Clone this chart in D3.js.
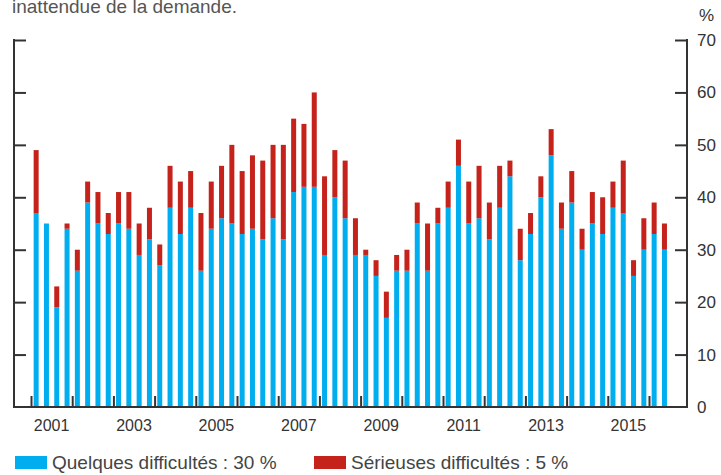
<!DOCTYPE html>
<html>
<head>
    <meta charset="utf-8">
    <title>difficultes</title>
    <style type="text/css">
        body { margin: 0; background: #fff; }
        svg text { font-family: "Liberation Sans", Arial, sans-serif; fill: #333; }
        .axis path, .axis line { stroke: #333; }
    </style>
</head>
<body>
    <svg class="chart" width="721" height="475"></svg>
    <script src="https://cdn.jsdelivr.net/npm/d3@7"></script>
    <script type="text/javascript">
    // quarterly, 2001 T1 .. 2016 T2
    var years = d3.range(2001, 2017);
    var labelYears = [2001, 2003, 2005, 2007, 2009, 2011, 2013, 2015];
    var quelques = [37, 35, 19, 34, 26, 39, 35, 33, 35, 34, 29, 32, 27, 38, 33, 38,
        26, 34, 36, 35, 33, 34, 32, 36, 32, 41, 42, 42, 29, 40, 36, 29,
        29, 25, 17, 26, 26, 35, 26, 35, 38, 46, 35, 36, 32, 38, 44, 28,
        33, 40, 48, 34, 39, 30, 35, 33, 38, 37, 25, 30, 33, 30];
    var serieuses = [12, 0, 4, 1, 4, 4, 6, 4, 6, 7, 6, 6, 4, 8, 10, 7,
        11, 9, 10, 15, 12, 14, 15, 14, 18, 14, 12, 18, 15, 9, 11, 7,
        1, 3, 5, 3, 4, 4, 9, 3, 5, 5, 8, 10, 7, 8, 3, 6,
        4, 4, 5, 5, 6, 4, 6, 7, 5, 10, 3, 6, 6, 5];
    var yTicks = [0, 10, 20, 30, 40, 50, 60, 70];
    var legendLabels = ['Quelques difficultés : 30 %', 'Sérieuses difficultés : 5 %'];
    var colors = ['#00aeef', '#c4221b'];

    var rows = quelques.map(function(v, i) {
        return { t: 2001 + Math.floor(i / 4) + (i % 4 + 0.5) / 4, quelques: v, serieuses: serieuses[i] };
    });

    var svg = d3.select('.chart');
    var plotLeft = 14, plotRight = 687, plotTop = 40, plotBottom = 407;

    var x = d3.scaleLinear().domain([2001, 2016.5]).range([31, 669.6]);
    var y = d3.scaleLinear().domain([0, 70]).range([plotBottom, plotTop]);

    // texte coupe en haut
    svg.append('text')
        .attr('x', 12).attr('y', 13)
        .style('font-size', '19px').style('fill', '#555')
        .text('inattendue de la demande.');

    var series = d3.stack().keys(['quelques', 'serieuses'])(rows);

    svg.append('g').selectAll('g')
        .data(series)
        .enter().append('g')
        .attr('fill', function(d, i) { return colors[i]; })
        .selectAll('rect')
        .data(function(d) { return d; })
        .enter().append('rect')
        .attr('x', function(d) { return x(d.data.t) - 2.5; })
        .attr('width', 5)
        .attr('y', function(d) { return y(d[1]); })
        .attr('height', function(d) { return y(d[0]) - y(d[1]); });

    // axe gauche (traits vers l'interieur)
    svg.append('g')
        .attr('class', 'axis')
        .attr('transform', 'translate(' + plotLeft + ',0)')
        .call(d3.axisRight(y).tickValues(yTicks.slice(1)).tickSize(12).tickFormat(''))
        .call(function(g) { g.select('.domain').remove(); g.selectAll('line').attr('stroke-width', 2); });

    // axe droit
    var ry = svg.append('g')
        .attr('class', 'axis')
        .attr('transform', 'translate(' + plotRight + ',0)')
        .call(d3.axisLeft(y).tickValues(yTicks).tickSize(12).tickFormat(d3.format('d')))
        .call(function(g) { g.select('.domain').remove(); g.selectAll('line').attr('stroke-width', 2); });
    ry.selectAll('text')
        .attr('x', 10).attr('text-anchor', 'start')
        .style('font-size', '17px').style('fill', '#333');
    ry.select('.tick line').remove();

    svg.append('line').attr('x1', plotLeft).attr('x2', plotLeft).attr('y1', plotTop - 1).attr('y2', plotBottom + 1)
        .attr('stroke', '#333').attr('stroke-width', 2);
    svg.append('line').attr('x1', plotRight).attr('x2', plotRight).attr('y1', plotTop - 1).attr('y2', plotBottom + 1)
        .attr('stroke', '#333').attr('stroke-width', 2);

    svg.append('text')
        .attr('x', 699).attr('y', 21)
        .style('font-size', '17px')
        .text('%');

    // axe des abscisses
    svg.append('g')
        .attr('class', 'axis')
        .attr('transform', 'translate(0,' + plotBottom + ')')
        .call(d3.axisBottom(x).tickValues(years).tickSize(-11).tickFormat(''))
        .call(function(g) { g.select('.domain').remove(); g.selectAll('line').attr('stroke-width', 2); });

    svg.append('line').attr('x1', plotLeft).attr('x2', plotRight).attr('y1', plotBottom).attr('y2', plotBottom)
        .attr('stroke', '#333').attr('stroke-width', 2);

    svg.append('g').selectAll('text')
        .data(labelYears)
        .enter().append('text')
        .attr('x', function(d) { return x(d + 0.5); })
        .attr('y', 431)
        .attr('text-anchor', 'middle')
        .style('font-size', '16px')
        .text(function(d) { return d; });

    // legende
    var legend = svg.append('g').selectAll('g')
        .data(legendLabels)
        .enter().append('g')
        .attr('transform', function(d, i) { return 'translate(' + [15, 314][i] + ',456)'; });
    legend.append('rect')
        .attr('width', 32).attr('height', 13)
        .attr('fill', function(d, i) { return colors[i]; });
    legend.append('text')
        .attr('x', 37).attr('y', 13)
        .style('font-size', '19px').style('fill', '#444')
        .text(function(d) { return d; });
    </script>
</body>
</html>
